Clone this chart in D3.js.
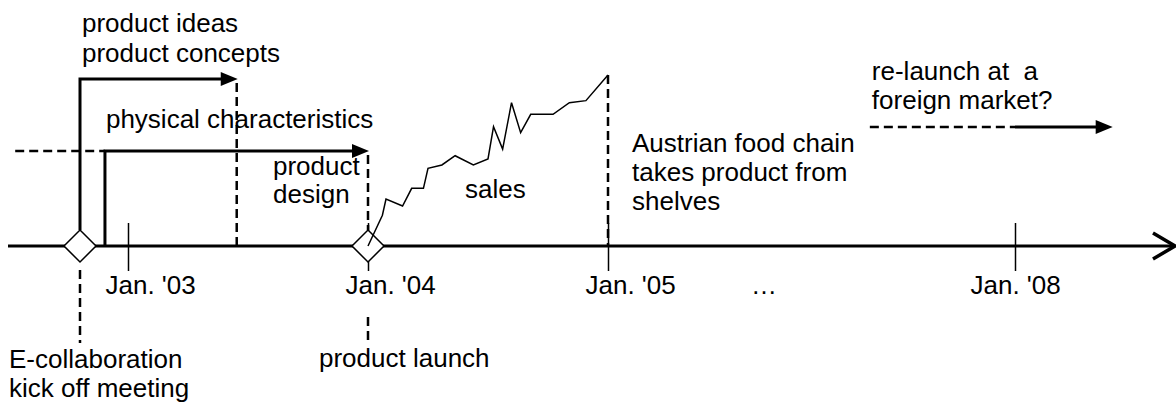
<!DOCTYPE html>
<html>
<head>
<meta charset="utf-8">
<script src="https://cdn.jsdelivr.net/npm/d3@7"></script>
<style>
  body { margin: 0; background: #fff; }
  svg text { font-family: "Liberation Sans", Arial, sans-serif; font-size: 26px; fill: #000; white-space: pre; }
</style>
</head>
<body>
<div id="chart"></div>
<script>
// time is in decimal years
var tickYears = [2003, 2004, 2005, 2008];
var tickLabels = ["Jan. '03", "Jan. '04", "Jan. '05", "Jan. '08"];

// milestones on the time line
var milestoneTimes = [2002.8, 2004.0];
var milestoneLabels = [["E-collaboration", "kick off meeting"], ["product launch"]];

// development phases (start, end)
var phaseNames = [["product ideas", "product concepts"], ["physical characteristics"]];
var phaseStart = [2002.8, 2002.904];
var phaseEnd = [2003.453, 2004.0];
var leadInStart = 2002.53;

// sales after launch (relative units, 100 = peak)
var salesTimes = [2004.0, 2004.06, 2004.075, 2004.144, 2004.182, 2004.231, 2004.25, 2004.308, 2004.363, 2004.439,
                  2004.5, 2004.523, 2004.561, 2004.598, 2004.636, 2004.678, 2004.771, 2004.839, 2004.908, 2005.0];
var salesValues = [0, 18, 27.5, 23.4, 33.7, 33.7, 45.4, 47.4, 52.8, 47.4,
                   50.9, 69.8, 56.7, 83.8, 66.3, 77, 77, 83.8, 85, 100];

var delistTime = 2005.0;
var relaunchStart = 2006.93, relaunchFrom = 2008.0, relaunchEnd = 2008.72;

var width = 1176, height = 403;
var axisY = 246;

var svg = d3.select("#chart").append("svg")
    .attr("width", width)
    .attr("height", height);

// broken time axis: 2005 -> 2008 is compressed
var x = d3.scaleLinear()
    .domain(tickYears)
    .range([128, 368, 608, 1015]);

var y = d3.scaleLinear()
    .domain([0, 100])
    .range([axisY, 75]);

// ticks and labels
var axis = svg.append("g")
    .attr("transform", "translate(0," + (axisY - 23) + ")")
    .call(d3.axisBottom(x).tickValues(tickYears).tickSize(48).tickFormat(function(d, i) { return tickLabels[i]; }));
axis.select(".domain").remove();
axis.selectAll(".tick line").attr("stroke", "#000").attr("stroke-width", 1.5);
axis.selectAll(".tick text")
    .attr("y", 71)
    .attr("dy", null)
    .attr("x", function(d, i) { return i < 3 ? -23 : -45; })
    .attr("text-anchor", "start")
    .style("font-size", "26px")
    .style("font-family", "Liberation Sans, Arial, sans-serif");

svg.append("text")
    .attr("x", x(2006.15))
    .attr("y", 294)
    .attr("text-anchor", "middle")
    .text("\u2026");

// main time line with open arrow
svg.append("line")
    .attr("x1", x(2002.5)).attr("x2", width - 2)
    .attr("y1", axisY).attr("y2", axisY)
    .attr("stroke", "#000").attr("stroke-width", 3);
svg.append("path")
    .attr("d", "M" + (width - 23) + "," + (axisY - 13) + "L" + (width - 1) + "," + axisY + "L" + (width - 23) + "," + (axisY + 13))
    .attr("fill", "none").attr("stroke", "#000").attr("stroke-width", 3.5);

function dashed(x1, y1, x2, y2) {
    svg.append("line")
        .attr("x1", x1).attr("y1", y1).attr("x2", x2).attr("y2", y2)
        .attr("stroke", "#000").attr("stroke-width", 2.5)
        .attr("stroke-dasharray", "9,5");
}

function arrowHead(tipX, yy) {
    svg.append("path")
        .attr("d", "M" + tipX + "," + yy + "L" + (tipX - 17) + "," + (yy - 7) + "L" + (tipX - 17) + "," + (yy + 7) + "Z")
        .attr("fill", "#000");
}

var rowY = [79, 151];

// dashed guides
dashed(x(phaseEnd[0]), rowY[0] + 4, x(phaseEnd[0]), axisY);
dashed(x(phaseEnd[1]), rowY[1] + 4, x(phaseEnd[1]), axisY - 16);
dashed(x(leadInStart), rowY[1], x(phaseStart[1]), rowY[1]);
dashed(x(delistTime), y(100), x(delistTime), axisY);
dashed(x(milestoneTimes[0]), 270, x(milestoneTimes[0]), 343);
dashed(x(milestoneTimes[1]), 317, x(milestoneTimes[1]), 340);
dashed(x(relaunchStart), 127, x(relaunchFrom), 127);

// phase arrows
phaseStart.forEach(function(s, i) {
    var base = i === 0 ? axisY - 16 : axisY;
    svg.append("path")
        .attr("d", "M" + x(s) + "," + base + "V" + rowY[i] + "H" + (x(phaseEnd[i]) - 14))
        .attr("fill", "none").attr("stroke", "#000").attr("stroke-width", 3)
        .attr("stroke-linejoin", "miter");
    arrowHead(x(phaseEnd[i]) + 1, rowY[i]);
});

// re-launch arrow
svg.append("line")
    .attr("x1", x(relaunchFrom)).attr("x2", x(relaunchEnd) - 14)
    .attr("y1", 127).attr("y2", 127)
    .attr("stroke", "#000").attr("stroke-width", 3);
arrowHead(x(relaunchEnd), 127);

// milestone diamonds
svg.selectAll(".milestone")
    .data(milestoneTimes)
    .enter().append("path")
    .attr("class", "milestone")
    .attr("d", function(d) {
        var cx = x(d), r = 16;
        return "M" + cx + "," + (axisY - r) + "L" + (cx + r) + "," + axisY + "L" + cx + "," + (axisY + r) + "L" + (cx - r) + "," + axisY + "Z";
    })
    .attr("fill", "#fff").attr("stroke", "#000").attr("stroke-width", 1.5);

// sales curve
var salesData = salesTimes.map(function(t, i) { return { t: t, v: salesValues[i] }; });
svg.append("path")
    .datum(salesData)
    .attr("fill", "none")
    .attr("stroke", "#000")
    .attr("stroke-width", 1.5)
    .attr("d", d3.line().x(function(d) { return x(d.t); }).y(function(d) { return y(d.v); }));

// labels
function label(lines, lx, ly, lh) {
    var t = svg.append("text").attr("x", lx).attr("y", ly);
    lines.forEach(function(s, i) {
        t.append("tspan").attr("x", lx).attr("y", ly + i * lh).text(s);
    });
}

label(phaseNames[0], x(phaseStart[0]) + 2, 32, 30);
label(phaseNames[1], x(phaseStart[1]) + 1, 128, 30);
label(["product", "design"], 273, 175, 28);
label(["sales"], 465, 198, 28);
label(["Austrian food chain", "takes product from", "shelves"], x(delistTime) + 24, 152, 29);
label(["re-launch at  a", "foreign market?"], x(relaunchStart) + 2, 80, 29);
label(milestoneLabels[0], 9, 368, 29);
label(milestoneLabels[1], x(milestoneTimes[1]) - 49, 367, 29);
</script>
</body>
</html>
